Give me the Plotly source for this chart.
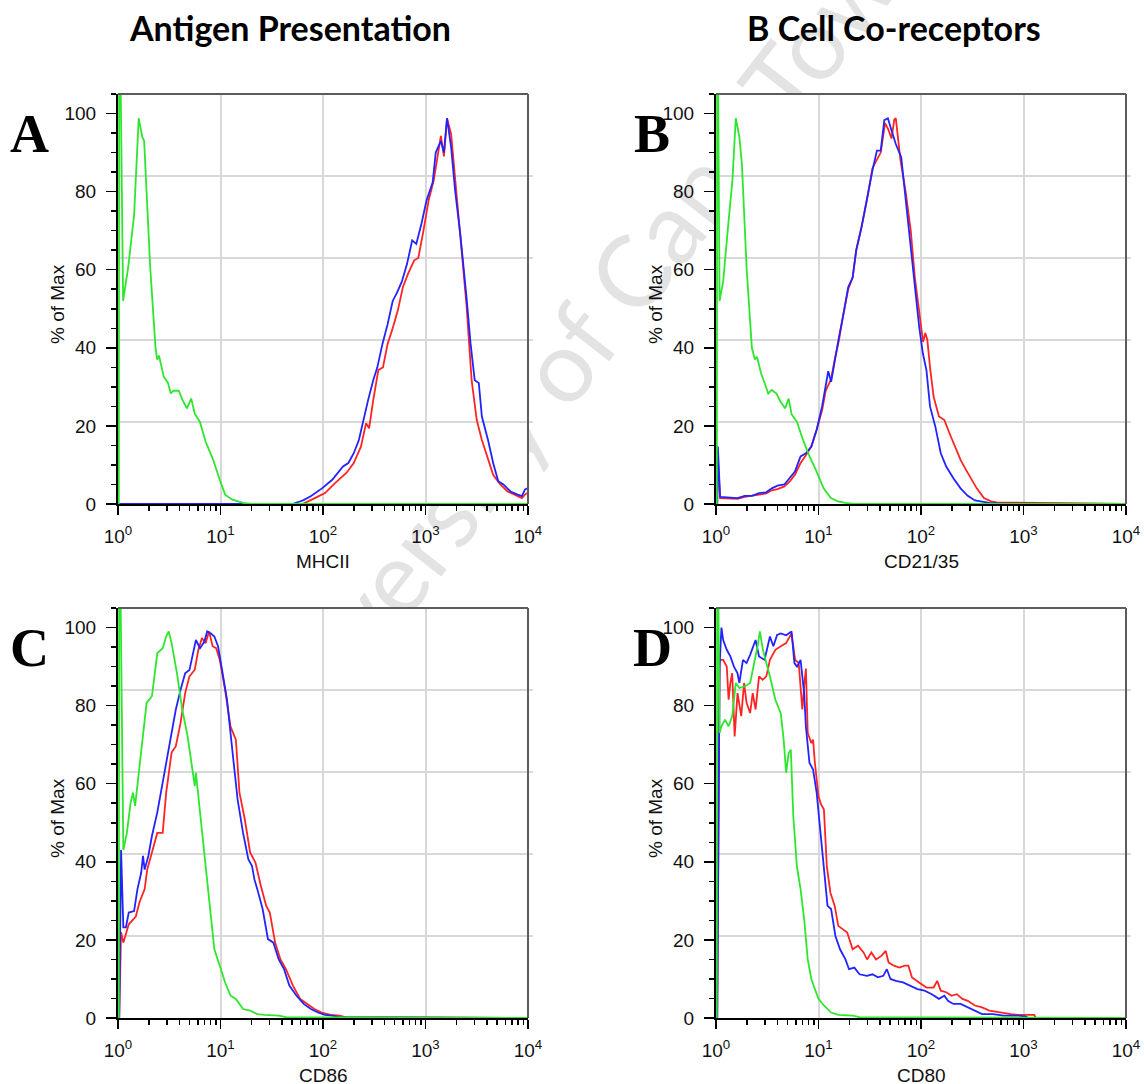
import numpy as np
import plotly.graph_objects as go

W, H = 1144, 1084

RED, BLUE, GREEN = "#ff2424", "#2323ff", "#2ee62e"

# ---- histogram data: fluorescence position (log10 units) and % of max ----
# Panel A - MHCII
mhcii_ctrl_log = [0.008, 0.012, 0.05, 0.1, 0.157, 0.202, 0.237, 0.255, 0.314, 0.366, 0.383, 0.40, 0.446,
                  0.488, 0.515, 0.54, 0.592, 0.63, 0.672, 0.714, 0.75, 0.8, 0.854, 0.923, 0.993, 1.045,
                  1.115, 1.22, 1.3, 4.0]
mhcii_ctrl_pct = [0, 140, 52, 60.7, 74, 98.8, 94, 93, 60.7, 40, 37, 38, 32.6,
                  31, 28.3, 29, 29, 26.6, 24.5, 27, 23, 21, 16, 11.7, 6.2, 2.4,
                  1.1, 0.3, 0, 0]
mhcii_blue_log = [0.0, 1.70, 1.78, 1.81, 1.88, 1.99, 2.09, 2.14, 2.195, 2.247, 2.30, 2.35, 2.40, 2.44,
                  2.49, 2.53, 2.58, 2.63, 2.68, 2.72, 2.77, 2.82, 2.87, 2.91, 2.96, 3.01, 3.07, 3.10,
                  3.15, 3.18, 3.21, 3.25, 3.29, 3.34, 3.40, 3.44, 3.48, 3.52, 3.55, 3.61, 3.66, 3.71,
                  3.76, 3.83, 3.90, 3.94, 3.97, 3.99]
mhcii_blue_pct = [0, 0, 0.7, 1, 2, 4, 6.2, 7.9, 9.6, 10.5, 13, 16.4, 22.4, 26.6,
                  31.7, 35, 41, 46, 52, 54, 57, 61.5, 67.5, 66.6, 71.7, 77.7, 82.4, 90,
                  93, 90, 98.8, 91.3, 80, 69, 53, 41, 31.7, 31, 22.4, 16.4, 10.5, 5.8,
                  5, 3.2, 2.4, 2, 3.7, 4]
mhcii_red_log = [0.0, 1.80, 1.92, 2.02, 2.12, 2.23, 2.30, 2.37, 2.42, 2.45, 2.49, 2.54, 2.585, 2.63,
                 2.68, 2.73, 2.78, 2.83, 2.89, 2.93, 2.98, 3.03, 3.08, 3.12, 3.15, 3.18, 3.21, 3.25,
                 3.29, 3.34, 3.40, 3.45, 3.50, 3.55, 3.61, 3.66, 3.73, 3.80, 3.87, 3.94, 3.97, 3.99]
mhcii_red_pct = [0, 0, 1.5, 2.8, 5.4, 8, 10.5, 14.7, 20.7, 19.4, 26.6, 34.3, 35, 41,
                 45, 49.6, 55.6, 59, 62.4, 63, 70, 77.7, 82.8, 88.8, 94.3, 89, 98.8, 94.7,
                 82.8, 69, 51, 31.7, 21.5, 16.4, 11.3, 7.5, 5, 3.2, 2.4, 1.5, 2.4, 2.8]

# Panel B - CD21/35
cd21_ctrl_log = [0.008, 0.012, 0.035, 0.07, 0.12, 0.16, 0.193, 0.228, 0.253, 0.298, 0.35, 0.379, 0.40,
                 0.44, 0.474, 0.51, 0.544, 0.59, 0.63, 0.674, 0.709, 0.737, 0.79, 0.842, 0.912, 0.982,
                 1.05, 1.12, 1.19, 1.26, 1.35, 4.0]
cd21_ctrl_pct = [0, 140, 52, 57, 71.7, 82.8, 98.8, 94, 87, 60.7, 40, 37, 37.7,
                 33.4, 31, 28.3, 29.2, 28.3, 26.2, 24.5, 27, 23, 21, 16.9, 12.2, 8.3,
                 4, 1.5, 0.7, 0.3, 0, 0]
cd21_blue_log = [0.012, 0.018, 0.04, 0.14, 0.21, 0.28, 0.35, 0.42, 0.49, 0.544, 0.60, 0.667, 0.72,
                 0.77, 0.825, 0.877, 0.93, 0.982, 1.035, 1.07, 1.095, 1.123, 1.158, 1.20, 1.245, 1.29,
                 1.333, 1.368, 1.42, 1.474, 1.526, 1.57, 1.607, 1.642, 1.677, 1.712, 1.754, 1.807,
                 1.842, 1.888, 1.93, 1.982, 2.018, 2.053, 2.088, 2.14, 2.193, 2.246, 2.316, 2.386,
                 2.456, 2.526, 2.596, 2.667, 2.77, 4.0]
cd21_blue_pct = [0, 14.7, 1.8, 1.7, 1.5, 2.1, 2.1, 2.8, 3, 4, 4.7, 5, 6.6,
                 8.3, 12.2, 13, 14.7, 19, 25, 30, 34, 31.3, 36.9, 42.8, 48.8, 55.6,
                 58, 65, 70.9, 78.6, 85.4, 90.5, 90.5, 98.3, 98.8, 95.7, 92.2, 88.8,
                 80.3, 69.2, 57.3, 45.4, 38.6, 34.3, 25, 19.8, 13, 9.6, 6.6, 4,
                 2.1, 0.9, 0.6, 0.3, 0.1, 0]
cd21_red_log = [0.012, 0.018, 0.04, 0.14, 0.21, 0.28, 0.35, 0.42, 0.49, 0.544, 0.60, 0.667, 0.72,
                0.77, 0.825, 0.877, 0.93, 0.982, 1.035, 1.07, 1.123, 1.158, 1.20, 1.245, 1.29, 1.333,
                1.368, 1.42, 1.474, 1.526, 1.57, 1.607, 1.649, 1.68, 1.712, 1.74, 1.754, 1.78, 1.80,
                1.85, 1.90, 1.94, 1.99, 2.02, 2.042, 2.062, 2.088, 2.123, 2.175, 2.228, 2.28, 2.333,
                2.386, 2.438, 2.49, 2.544, 2.614, 2.684, 2.737, 4.0]
cd21_red_pct = [0, 12, 1.5, 1.3, 1.3, 1.8, 2.1, 2.4, 2.7, 3.5, 3.8, 4.5, 5.8,
                7.5, 10.5, 12.5, 14.7, 19, 24, 29, 32, 37, 42, 49, 55, 58,
                65, 71, 78, 86, 88, 90, 97.5, 96, 93.6, 98.5, 98.8, 92, 88,
                80, 70, 58, 47, 41.5, 43.8, 42, 35, 27.5, 22.4, 21.5, 18, 14.7,
                11.3, 8.8, 6.6, 4, 1.5, 0.7, 0.4, 0]

# Panel C - CD86
cd86_ctrl_log = [0.008, 0.012, 0.052, 0.087, 0.122, 0.146, 0.167, 0.202, 0.237, 0.279, 0.331, 0.383,
                 0.436, 0.47, 0.495, 0.523, 0.575, 0.627, 0.68, 0.714, 0.749, 0.76, 0.794, 0.836,
                 0.871, 0.906, 0.94, 0.993, 1.045, 1.098, 1.15, 1.22, 1.29, 1.36, 1.43, 1.568, 1.64, 4.0]
cd86_ctrl_pct = [0, 140, 43, 47.4, 55, 57.7, 54.3, 62.8, 70.4, 80.7, 82.4, 93.4,
                 94.7, 97.7, 99, 96, 88.3, 79, 72, 66, 59.4, 62.8, 54.3, 43.2,
                 33.8, 25.3, 17.6, 13.4, 9.1, 5.7, 4.9, 2.3, 1.9, 1, 0.8, 0.6, 0.2, 0]
cd86_blue_log = [0.012, 0.03, 0.052, 0.077, 0.105, 0.157, 0.19, 0.226, 0.244, 0.26, 0.296, 0.331,
                 0.383, 0.436, 0.488, 0.523, 0.564, 0.61, 0.655, 0.697, 0.732, 0.76, 0.8, 0.843,
                 0.87, 0.906, 0.94, 0.976, 1.01, 1.063, 1.115, 1.167, 1.22, 1.272, 1.307, 1.331,
                 1.359, 1.411, 1.463, 1.516, 1.568, 1.62, 1.672, 1.742, 1.812, 1.882, 1.951, 2.02,
                 2.09, 2.16, 4.0]
cd86_blue_pct = [0, 43, 23.2, 23.2, 27, 27.4, 33, 37.2, 41.5, 38, 41.5, 46.6,
                 52.6, 60.2, 68, 73, 79, 84, 88.3, 89.1, 93.4, 96.8, 94.7, 96.4,
                 99, 98.5, 97.7, 95.2, 90, 81.6, 68.7, 55.9, 47.4, 40.6, 39, 35.5,
                 33, 27.9, 20.2, 19.3, 15, 12.5, 8.3, 5.7, 3.6, 2.3, 1.4, 0.8,
                 0.6, 0.2, 0]
cd86_red_log = [0.012, 0.03, 0.052, 0.105, 0.174, 0.209, 0.26, 0.285, 0.331, 0.383, 0.436, 0.47,
                0.523, 0.564, 0.61, 0.655, 0.697, 0.749, 0.784, 0.819, 0.854, 0.889, 0.923, 0.958,
                0.993, 1.045, 1.098, 1.15, 1.185, 1.237, 1.289, 1.341, 1.394, 1.446, 1.481, 1.533,
                1.585, 1.638, 1.707, 1.777, 1.847, 1.916, 1.986, 2.073, 2.16, 2.22, 4.0]
cd86_red_pct = [0, 22, 19.3, 24, 26, 29.6, 33, 38, 42.4, 47.4, 47.4, 57.7,
                68, 69.6, 75.5, 83.2, 87.5, 89.2, 94.3, 97.3, 96, 99, 95.2, 94.7,
                91.7, 84, 74.6, 71.3, 57.7, 50.9, 42.4, 39.8, 33.8, 28.7, 27, 19.3,
                15, 12.5, 8.3, 4.9, 3.6, 2.3, 1.4, 0.8, 0.6, 0.2, 0]

# Panel D - CD80
cd80_ctrl_log = [0.008, 0.012, 0.035, 0.053, 0.088, 0.123, 0.158, 0.193, 0.228, 0.28, 0.333, 0.368,
                 0.404, 0.428, 0.456, 0.491, 0.526, 0.579, 0.632, 0.66, 0.684, 0.709, 0.73, 0.754,
                 0.789, 0.825, 0.86, 0.895, 0.93, 0.965, 1.0, 1.053, 1.123, 1.193, 1.333, 1.4, 4.0]
cd80_ctrl_pct = [0, 140, 73, 74.7, 76.4, 74.7, 77.3, 85.8, 84.5, 84.9, 85.8, 90,
                 95, 99, 94.5, 90.9, 87.5, 81.5, 78, 71.3, 62.8, 67.9, 68.7, 51.7,
                 38.9, 33, 25.3, 15, 10, 7.4, 4.9, 3.2, 1.4, 0.8, 0.6, 0.2, 0]
cd80_blue_log = [0.012, 0.035, 0.053, 0.07, 0.105, 0.14, 0.175, 0.21, 0.228, 0.263, 0.298, 0.333,
                 0.386, 0.42, 0.474, 0.526, 0.56, 0.596, 0.632, 0.684, 0.737, 0.765, 0.79, 0.825,
                 0.86, 0.877, 0.912, 0.947, 0.982, 1.018, 1.053, 1.088, 1.123, 1.165, 1.21, 1.263,
                 1.298, 1.35, 1.40, 1.474, 1.526, 1.579, 1.632, 1.667, 1.702, 1.754, 1.825, 1.895,
                 1.965, 2.035, 2.105, 2.175, 2.228, 2.263, 2.316, 2.386, 2.456, 2.526, 2.596, 2.702,
                 2.807, 2.947, 3.018, 3.05, 4.0]
cd80_blue_pct = [0, 90, 100, 96.8, 94.3, 92.6, 90, 88.3, 85.8, 91.7, 90.9, 93,
                 96.8, 92.6, 91.7, 97.7, 95.2, 98.1, 98.5, 98, 99, 90.9, 90, 91.7,
                 83.2, 74.7, 65.3, 63.6, 57.7, 47.4, 38.9, 28.7, 27.9, 21, 17.6, 15,
                 12.5, 12.9, 11.2, 10.8, 11.2, 10.4, 10.8, 12.5, 10, 9.5, 9.1, 8.3,
                 7.4, 7, 6.1, 4.9, 5.7, 4.4, 3.6, 3.6, 2.7, 1.9, 1, 1,
                 0.6, 0.6, 0.4, 0, 0]
cd80_red_log = [0.012, 0.035, 0.07, 0.105, 0.123, 0.14, 0.158, 0.182, 0.21, 0.246, 0.274, 0.298,
                0.333, 0.358, 0.386, 0.42, 0.456, 0.491, 0.526, 0.579, 0.632, 0.684, 0.737, 0.772,
                0.807, 0.842, 0.86, 0.877, 0.895, 0.93, 0.947, 0.965, 1.0, 1.025, 1.053, 1.081,
                1.116, 1.158, 1.193, 1.246, 1.28, 1.333, 1.386, 1.439, 1.474, 1.516, 1.561, 1.614,
                1.656, 1.684, 1.737, 1.789, 1.842, 1.877, 1.912, 1.982, 2.053, 2.123, 2.158, 2.193,
                2.246, 2.298, 2.35, 2.404, 2.456, 2.526, 2.596, 2.667, 2.772, 2.877, 2.947, 3.105,
                3.12, 4.0]
cd80_red_pct = [0, 91.7, 91.7, 90, 81.5, 85.8, 88.3, 72.1, 83.2, 77.3, 85.8, 80.7,
                78.1, 83.2, 79, 87.5, 86.6, 87.5, 91.7, 94.3, 95.2, 96, 98.5, 91.7,
                90.9, 79, 85, 89.5, 73, 70.4, 71.3, 65.3, 56.8, 54.7, 53.4, 38.9,
                32.1, 28.7, 23.6, 22.7, 21.9, 17.6, 18.5, 16.8, 15, 16.8, 15, 15.9,
                17.2, 14.2, 13.4, 12.9, 13.4, 13.4, 10.4, 9.1, 7.8, 7.8, 9.5, 7,
                6.6, 5.7, 6.1, 4.9, 4.4, 3.2, 2.7, 1.9, 1.4, 1, 0.8, 0.8,
                0, 0]

# axis labelling
decade_vals = [1, 10, 100, 1000, 10000]
decade_text = ["10<sup>0</sup>", "10<sup>1</sup>", "10<sup>2</sup>", "10<sup>3</sup>", "10<sup>4</sup>"]
minor_decade_vals = [m * 10 ** d for d in range(4) for m in range(2, 10)]
pct_ticks = [0, 20, 40, 60, 80, 100]
pct_grid = [21, 42, 63, 84]

# panel boxes in pixels: (left, right, top, bottom)
panels = [
    dict(letter="A", marker="MHCII", box=(118, 528, 94, 504),
         series=[(mhcii_red_log, mhcii_red_pct, RED), (mhcii_blue_log, mhcii_blue_pct, BLUE),
                 (mhcii_ctrl_log, mhcii_ctrl_pct, GREEN)]),
    dict(letter="B", marker="CD21/35", box=(716, 1126, 94, 504),
         series=[(cd21_red_log, cd21_red_pct, RED), (cd21_blue_log, cd21_blue_pct, BLUE),
                 (cd21_ctrl_log, cd21_ctrl_pct, GREEN)]),
    dict(letter="C", marker="CD86", box=(118, 528, 608, 1018),
         series=[(cd86_red_log, cd86_red_pct, RED), (cd86_blue_log, cd86_blue_pct, BLUE),
                 (cd86_ctrl_log, cd86_ctrl_pct, GREEN)]),
    dict(letter="D", marker="CD80", box=(716, 1126, 608, 1018),
         series=[(cd80_red_log, cd80_red_pct, RED), (cd80_blue_log, cd80_blue_pct, BLUE),
                 (cd80_ctrl_log, cd80_ctrl_pct, GREEN)]),
]

SANS = "Liberation Sans, Arial, sans-serif"
TICK_FONT = dict(family=SANS, size=19, color="#111111")


def px(x, y):
    return x / W, 1 - y / H


fig = go.Figure()
annotations = []
shapes = []
layout_axes = {}

# faint diagonal watermark (moved beneath the plot backgrounds after rendering)
wx, wy = px(578, 338)
annotations.append(dict(text="University of Cape Town", x=wx, y=wy, xref="paper", yref="paper",
                        showarrow=False, textangle=-52, xanchor="center", yanchor="middle",
                        font=dict(family="Lato, Open Sans, sans-serif", size=100, color="#e3e3e3")))

for i, p in enumerate(panels, start=1):
    left, right, top, bottom = p["box"]
    xn = "x" if i == 1 else f"x{i}"
    yn = "y" if i == 1 else f"y{i}"
    for logs, pct, color in p["series"]:
        fig.add_trace(go.Scatter(x=np.power(10.0, logs), y=pct, mode="lines",
                                 line=dict(color=color, width=1.8), xaxis=xn, yaxis=yn,
                                 showlegend=False, hoverinfo="skip"))

    layout_axes["xaxis" if i == 1 else f"xaxis{i}"] = dict(
        domain=[left / W, right / W], anchor=yn, type="log", range=[0, 4], automargin=False,
        tickmode="array", tickvals=decade_vals, ticktext=decade_text,
        ticks="outside", ticklen=9, tickwidth=1.5, tickcolor="black",
        ticklabelstandoff=5, tickfont=TICK_FONT,
        minor=dict(tickmode="array", tickvals=minor_decade_vals, ticks="outside",
                   ticklen=5, tickwidth=1.5, tickcolor="black", showgrid=False),
        showline=True, linecolor="black", linewidth=2, layer="below traces",
        showgrid=True, gridcolor="#d8d8d8", gridwidth=2, zeroline=False, fixedrange=True)
    layout_axes["yaxis" if i == 1 else f"yaxis{i}"] = dict(
        domain=[1 - bottom / H, 1 - top / H], anchor=xn, range=[0, 105], automargin=False,
        tickmode="array", tickvals=pct_ticks,
        ticks="outside", ticklen=10, tickwidth=1.5, tickcolor="black",
        ticklabelstandoff=6, tickfont=TICK_FONT,
        minor=dict(dtick=5, tick0=0, ticks="outside", ticklen=5, tickwidth=1.5,
                   tickcolor="black", showgrid=False),
        showline=True, linecolor="black", linewidth=2, layer="below traces",
        showgrid=False, zeroline=False, fixedrange=True)

    # horizontal grid at fifths of the 0-105 scale, running slightly past the frame
    for g in pct_grid:
        shapes.append(dict(type="line", xref=f"{xn} domain", yref=yn, x0=0, x1=1.012, y0=g, y1=g,
                           line=dict(color="#d8d8d8", width=2), layer="below"))
    # grey top and right frame edges
    shapes.append(dict(type="line", xref=f"{xn} domain", yref=f"{yn} domain", x0=0, x1=1, y0=1, y1=1,
                       line=dict(color="#5c5c5c", width=2), layer="above"))
    shapes.append(dict(type="line", xref=f"{xn} domain", yref=f"{yn} domain", x0=1, x1=1, y0=0, y1=1,
                       line=dict(color="#5c5c5c", width=2), layer="above"))

    # axis titles
    ax_, ay_ = px((left + right) / 2, bottom + 57)
    annotations.append(dict(text=p["marker"], x=ax_, y=ay_, xref="paper", yref="paper", showarrow=False,
                            xanchor="center", yanchor="middle",
                            font=dict(family=SANS, size=19, color="#111111")))
    tx, ty = px(left - 61, (top + bottom) / 2 + 5)
    annotations.append(dict(text="% of Max", x=tx, y=ty, xref="paper", yref="paper", showarrow=False,
                            textangle=-90, xanchor="center", yanchor="middle",
                            font=dict(family=SANS, size=19, color="#111111")))
    # panel letter
    lx, ly = px(left - 89 if i in (1, 3) else left - 64, top + 40)
    annotations.append(dict(text=p["letter"], x=lx, y=ly, xref="paper", yref="paper", showarrow=False,
                            xanchor="center", yanchor="middle",
                            font=dict(family="Liberation Serif, Times New Roman, serif", size=54,
                                      color="black", weight="bold")))

# column headings
for text, cx in (("Antigen Presentation", 290), ("B Cell Co-receptors", 894)):
    hx, hy = px(cx, 28)
    annotations.append(dict(text=text, x=hx, y=hy, xref="paper", yref="paper", showarrow=False,
                            xanchor="center", yanchor="middle",
                            font=dict(family="Lato, Open Sans, sans-serif", size=34, color="black",
                                      weight="bold")))

fig.update_layout(
    width=W, height=H, autosize=False,
    margin=dict(l=0, r=0, t=0, b=0, autoexpand=False),
    paper_bgcolor="white", plot_bgcolor="#ffffff",
    showlegend=False, annotations=annotations, shapes=shapes,
    **layout_axes,
)

# put the watermark behind the white plot areas so it only shows in the gaps
post = """
var gd = document.getElementById('{plot_id}');
var bg = gd.querySelector('.bglayer');
gd.querySelectorAll('.infolayer g.annotation').forEach(function (a) {
  if (bg && a.textContent === 'University of Cape Town') { bg.insertBefore(a, bg.firstChild); }
});
"""

fig.write_html("out.html", config={"staticPlot": True}, post_script=post)
